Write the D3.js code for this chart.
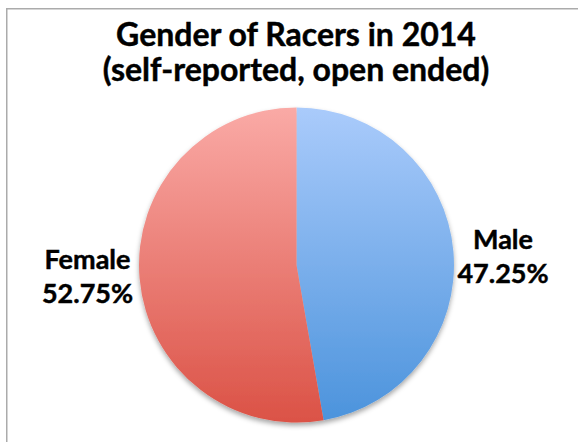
<!DOCTYPE html>
<html>
<head>
<meta charset="utf-8">
<script src="https://cdn.jsdelivr.net/npm/d3@7"></script>
<style>
  html, body { margin: 0; padding: 0; background: #fff; }
  svg { display: block; }
  text { font-family: Lato, "Open Sans", sans-serif; font-weight: 700; fill: #000;
         stroke: #000; stroke-width: 0.45px; paint-order: stroke; }
</style>
</head>
<body>
<svg id="chart" width="578" height="442"></svg>
<script>
// Gender shares reported by racers in 2014
const categories = ["Male", "Female"];
const shares = [47.25, 52.75];
const valueLabels = ["47.25%", "52.75%"];
const titleLines = ["Gender of Racers in 2014", "(self-reported, open ended)"];

const W = 578, H = 442;
const svg = d3.select("#chart");

// chart area frame (left and top edges visible)
svg.append("path")
  .attr("d", `M6.75,${H} V8.75 H${W}`)
  .attr("fill", "none")
  .attr("stroke", "#ababab")
  .attr("stroke-width", 1.5);

// title
const title = svg.append("g");
title.append("text").attr("x", 296).attr("y", 45.5)
  .attr("text-anchor", "middle").style("font-size", "32px")
  .text(titleLines[0]);
title.append("text").attr("x", 296).attr("y", 81)
  .attr("text-anchor", "middle").style("font-size", "32px")
  .text(titleLines[1]);

const cx = 296.5, cy = 265, r = 157.5;

const defs = svg.append("defs");
const gradStops = {
  Male: ["#aacbfb", "#4b93dc"],
  Female: ["#faaaa6", "#db5246"]
};
categories.forEach(c => {
  const g = defs.append("linearGradient")
    .attr("id", "grad-" + c)
    .attr("gradientUnits", "userSpaceOnUse")
    .attr("x1", 0).attr("y1", -r).attr("x2", 0).attr("y2", r);
  g.append("stop").attr("offset", "0%").attr("stop-color", gradStops[c][0]);
  g.append("stop").attr("offset", "100%").attr("stop-color", gradStops[c][1]);
});
const shadow = defs.append("filter").attr("id", "shadow")
  .attr("x", "-10%").attr("y", "-10%").attr("width", "120%").attr("height", "125%");
shadow.append("feDropShadow")
  .attr("dx", 0).attr("dy", 3).attr("stdDeviation", 2.5)
  .attr("flood-color", "#000").attr("flood-opacity", 0.35);

const data = categories.map((c, i) => ({ name: c, value: shares[i], label: valueLabels[i] }));
const pie = d3.pie().value(d => d.value).sort(null);
const arc = d3.arc().innerRadius(0).outerRadius(r);

const pieG = svg.append("g")
  .attr("transform", `translate(${cx},${cy})`)
  .attr("filter", "url(#shadow)");
const arcs = pie(data);
pieG.selectAll("path").data(arcs).join("path")
  .attr("d", arc)
  .attr("fill", d => `url(#grad-${d.data.name})`);

// outside labels beside each slice
const labelPos = {
  Male: { dx: 206.5, dy: -16 },
  Female: { dx: -209, dy: 4 }
};
const labels = svg.append("g").attr("transform", `translate(${cx},${cy})`);
arcs.forEach(a => {
  const p = labelPos[a.data.name];
  const t = labels.append("text")
    .attr("text-anchor", "middle")
    .style("font-size", "27px");
  t.append("tspan").attr("x", p.dx).attr("y", p.dy).text(a.data.name);
  t.append("tspan").attr("x", p.dx).attr("y", p.dy + 34).text(a.data.label);
});
</script>
</body>
</html>
